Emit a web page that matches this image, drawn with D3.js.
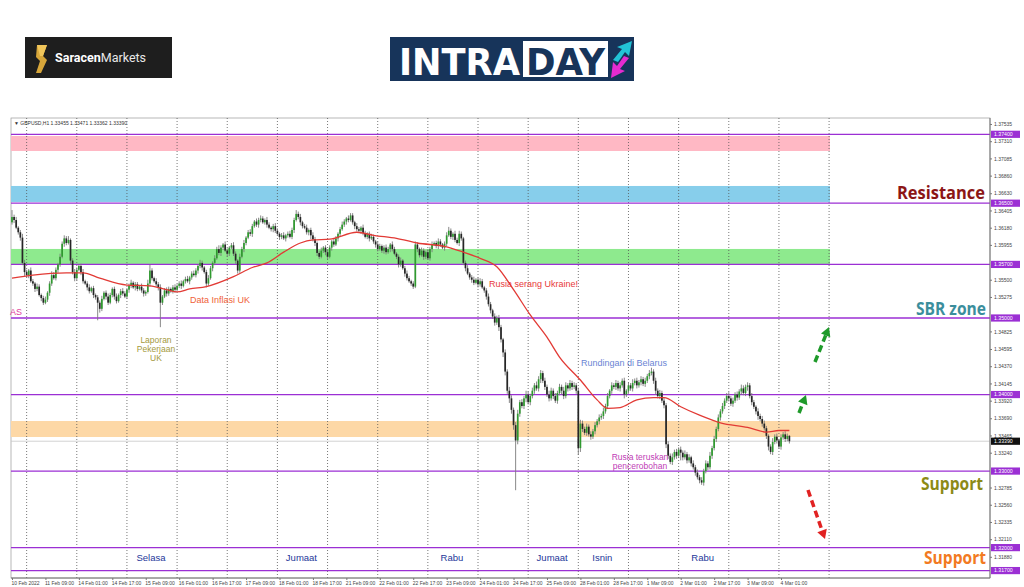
<!DOCTYPE html>
<html><head><meta charset="utf-8">
<script src="https://cdn.jsdelivr.net/npm/d3@7"></script>
<style>
body{margin:0;background:#fff;}
svg{display:block;font-family:"Liberation Sans",Arial,sans-serif;}
</style>
</head><body>
<svg id="c" width="1024" height="587"></svg>
<script>
// ---- DATA (prices in pips above 1.3000) ----
const firstOpen = 625;
const closes = [
632,628,618,612,605,572,560,556,562,548,
545,538,541,530,526,520,524,533,545,556,
552,563,570,580,597,604,598,602,575,560,
552,563,568,560,548,545,540,535,539,530,
527,520,512,525,533,528,520,530,538,528,
522,530,535,532,528,537,542,546,540,544,
538,541,536,532,534,545,562,552,548,544,
540,520,528,536,532,538,535,540,537,542,
545,542,548,551,548,553,558,556,562,568,
572,566,560,545,552,565,572,578,590,585,
592,596,588,584,592,595,584,575,562,580,
590,598,605,612,610,620,626,622,628,630,
625,628,622,618,616,620,614,610,606,608,
604,608,610,606,615,628,636,632,625,620,
618,612,615,608,603,598,585,580,588,592,
586,580,592,600,596,604,610,616,622,626,
630,628,634,625,620,616,614,618,611,606,
610,604,606,600,596,590,594,588,592,586,
590,596,590,584,580,570,575,565,558,552,
548,545,541,596,590,582,588,580,586,578,
590,596,598,594,600,596,592,597,608,614,
606,610,602,598,610,604,572,565,558,553,
550,546,550,544,548,540,536,528,518,510,
502,494,500,488,472,455,430,405,395,380,
360,340,375,390,385,395,400,390,398,405,
412,408,420,428,418,410,400,395,405,398,
392,402,410,405,398,412,408,415,410,412,
405,330,362,355,350,358,348,345,352,360,
365,370,372,378,385,398,405,412,410,415,
408,412,418,400,405,412,408,415,418,412,
416,420,414,418,424,428,430,418,405,398,
402,392,386,335,320,312,318,325,320,328,
324,318,322,314,318,310,305,298,292,288,
285,300,310,305,320,330,342,355,370,378,
385,392,398,395,388,392,400,396,404,408,
402,410,412,398,390,384,378,372,368,362,
356,346,332,325,338,345,340,332,344,348,
342,346,339
];
const wickUp = [
9,3,4,2,3,5,4,3,2,4, 3,2,4,3,2,3,4,2,3,5, 4,3,2,4,3,4,3,5,2,3, 4,3,2,3,4,2,3,4,2,3,
2,3,3,4,2,3,4,3,2,3, 4,2,3,4,3,2,3,4,2,3, 3,2,4,3,2,5,8,3,2,4, 3,4,2,3,4,3,2,3,4,2,
3,4,2,3,4,2,3,4,3,2, 4,3,2,3,4,3,2,4,3,5, 3,2,4,3,2,3,4,3,2,4, 3,4,2,3,4,3,2,4,3,4,
3,2,4,3,2,3,4,3,2,3, 4,2,3,4,3,3,5,3,4,2, 3,4,2,3,4,3,2,3,4,2, 3,4,3,2,4,3,2,3,4,3,
2,4,3,3,2,4,3,2,4,3, 2,3,4,3,2,4,3,2,3,4, 3,2,4,3,2,3,4,2,3,4, 3,2,3,4,3,2,4,3,2,4,
3,4,2,3,4,3,2,3,4,5, 3,2,4,3,4,3,2,3,4,2, 3,4,2,3,4,3,2,3,4,3, 2,4,3,4,3,2,4,3,5,4,
3,4,5,3,4,3,5,4,3,4, 3,5,4,4,3,4,3,5,4,3, 4,3,4,3,5,4,3,4,3,4, 3,4,5,4,3,4,3,4,3,4,
3,4,3,5,3,4,2,4,3,4, 3,4,3,4,2,4,3,5,3,4, 3,4,3,4,3,4,5,3,4,3, 4,3,4,3,4,3,5,3,4,3,
4,3,5,3,4,2,4,3,4,3, 4,3,4,3,5,3,4,3,4,3, 4,3,4,5,3,4,3,4,3,5, 4,3,4,3,4,3,2,4,3,4,
4,3,2,3,5,3,4,2,4,3, 4,3,1
];
const wickDn = [
3,4,2,3,4,3,5,3,4,2, 3,4,3,2,4,3,2,3,4,3, 2,3,4,3,2,4,3,2,5,3, 4,3,2,4,3,2,4,3,2,4,
3,23,5,3,2,4,3,2,3,4, 3,2,4,3,2,3,4,3,2,4, 3,2,3,4,3,2,4,3,2,3, 4,32,3,2,4,3,2,3,4,2,
3,4,2,3,2,4,3,2,3,4, 3,4,2,5,3,2,4,3,2,3, 4,3,2,4,3,2,3,4,4,3, 2,4,3,2,3,4,2,3,4,3,
2,3,4,2,3,4,3,2,4,3, 2,4,3,2,3,4,2,3,4,3, 2,3,4,5,3,4,4,3,2,3, 4,3,2,4,3,2,4,3,2,3,
4,3,2,3,4,3,2,4,3,2, 3,4,2,3,4,3,2,3,4,3, 2,4,3,2,3,4,3,2,4,3, 2,3,3,2,4,3,2,4,3,2,
3,4,2,3,4,3,2,4,3,2, 3,4,3,2,4,3,3,4,2,3, 4,3,2,4,3,2,3,4,3,4, 3,4,3,5,4,6,5,4,6,5,
6,65,5,4,3,4,5,3,4,3, 4,3,4,5,3,4,3,4,3,4, 3,4,3,5,4,3,4,3,4,3, 4,9,5,4,3,4,3,4,3,4,
3,4,3,4,3,4,3,4,3,4, 3,4,3,5,3,4,3,4,3,4, 3,4,3,4,3,4,3,4,5,3, 4,3,4,5,4,3,4,3,4,3,
10,4,3,4,3,4,3,4,3,4, 3,4,3,4,3,4,3,4,3,4, 3,4,3,4,3,4,3,4,3,4, 3,4,5,3,4,3,4,5,3,4,
3,4,5,3,4,3,4,3,4,3, 4,3,3
];
// moving average: [bar index, pips]
const maPts = [
[0,552],[10,556],[26,559],[34,559],[42,552],[55,543],[66,542],[74,537],[79,534],[85,538],
[93,541],[106,554],[115,566],[122,572],[130,586],[138,598],[144,602],[152,603],[165,612],
[173,608],[184,604],[194,598],[208,593],[216,586],[224,578],[232,567],[240,537],[248,504],
[256,475],[262,449],[272,419],[280,393],[285,382],[291,383],[299,393],[307,396],[312,396],
[320,384],[329,373],[339,363],[352,357],[361,351],[367,353],[372,353]
];
const xTickIdx = d3.range(0, 369, 16);
const xTickLabels = ["10 Feb 2022","11 Feb 09:00","14 Feb 01:00","14 Feb 17:00","15 Feb 09:00","16 Feb 01:00","16 Feb 17:00","17 Feb 09:00","18 Feb 01:00","18 Feb 17:00","21 Feb 09:00","22 Feb 01:00","22 Feb 17:00","23 Feb 09:00","24 Feb 01:00","24 Feb 17:00","25 Feb 09:00","28 Feb 01:00","28 Feb 17:00","1 Mar 09:00","2 Mar 01:00","2 Mar 17:00","3 Mar 09:00","4 Mar 01:00"];
const dayStarts = [7,31,55,79,103,127,151,175,199,223,247,271,295,319,343,367,391];
const yTicks = [1.37535,1.37310,1.37085,1.36860,1.36630,1.36405,1.36180,1.35955,1.35500,1.35275,1.34825,1.34595,1.34370,1.34145,1.33920,1.33690,1.33465,1.33240,1.32785,1.32560,1.32335,1.32110,1.31880];
const levels = [1.37400,1.36500,1.35700,1.35000,1.34000,1.33000,1.32000,1.31700];
const lastPrice = 1.33390;
const bands = [
  {lo:1.37182, hi:1.37378, color:"#ffb8c4"},
  {lo:1.36516, hi:1.36725, color:"#87ceeb"},
  {lo:1.35706, hi:1.35902, color:"#8eea8e"},
  {lo:1.33445, hi:1.33654, color:"#fdd8a6"}
];
const dayNames = ["Selasa","Jumaat","Rabu","Jumaat","Isnin","Rabu"];
const dayNameBars = [55,127,199,247,271,319];

// ---- SCALES ----
const svg = d3.select("#c");
const P = p => 1.3 + p/10000;
const x = d3.scaleLinear().domain([0,468]).range([12,990]);
const y = d3.scaleLinear().domain([1.31603,1.37613]).range([578,118]);
const L = 11, R = 990, T = 118, B = 578;

// ---- LOGOS ----
const lg = svg.append("g");
lg.append("rect").attr("x",25).attr("y",37).attr("width",147).attr("height",41).attr("fill","#1e1e1e");
lg.append("polygon").attr("points","37,45 47,45 43,56 47,60 41,73 36,73 40,61 36,57").attr("fill","#d7a63a");
lg.append("polygon").attr("points","37,45 47,45 43,56 40,56").attr("fill","#f0c55a");
const st = lg.append("text").attr("x",55).attr("y",62).attr("font-size",12.5).attr("fill","#fff")
  .attr("font-family","Roboto, 'Liberation Sans', sans-serif");
st.append("tspan").attr("font-weight",700).text("Saracen");
st.append("tspan").attr("font-weight",400).attr("fill","#e8e8e8").text("Markets");

lg.append("rect").attr("x",390).attr("y",37).attr("width",244).attr("height",44).attr("fill","#17345a");
lg.append("text").attr("x",399).attr("y",75).attr("font-size",37).attr("font-weight",700).attr("fill","#fff")
  .attr("font-family","'DejaVu Sans Condensed','Roboto',sans-serif").attr("textLength",121).attr("lengthAdjust","spacingAndGlyphs").text("INTRA");
lg.append("rect").attr("x",523).attr("y",41).attr("width",85).attr("height",36).attr("fill","#fff");
lg.append("text").attr("x",526).attr("y",75).attr("font-size",37).attr("font-weight",700).attr("fill","#17345a")
  .attr("font-family","'DejaVu Sans Condensed','Roboto',sans-serif").attr("textLength",79).attr("lengthAdjust","spacingAndGlyphs").text("DAY");
lg.append("polygon").attr("points","613,60 622,49 617,47 632,41 629,56 625,52 618,62").attr("fill","#22c3d6");
lg.append("polygon").attr("points","629,58 620,69 625,71 611,78 613,62 617,66 624,56").attr("fill","#e52bd0");

// ---- PLOT FRAME ----
const g = svg.append("g");
g.append("rect").attr("x",L).attr("y",T).attr("width",R-L).attr("height",B-T).attr("fill","#fff").attr("stroke","#999").attr("stroke-width",0.7);

// bands
g.selectAll(".band").data(bands).join("rect")
  .attr("x",L).attr("width",830-L)
  .attr("y",d=>y(d.hi)).attr("height",d=>y(d.lo)-y(d.hi)).attr("fill",d=>d.color);

// vertical grid
g.selectAll(".vg").data(dayStarts).join("line")
  .attr("x1",d=>x(d)).attr("x2",d=>x(d)).attr("y1",T).attr("y2",B)
  .attr("stroke","#555").attr("stroke-width",0.8).attr("stroke-dasharray","1,2");

// last price line
g.append("line").attr("x1",L).attr("x2",R).attr("y1",y(lastPrice)).attr("y2",y(lastPrice)).attr("stroke","#c8c8c8").attr("stroke-width",0.8);

// levels
g.selectAll(".lvl").data(levels).join("line")
  .attr("x1",L).attr("x2",R).attr("y1",d=>y(d)).attr("y2",d=>y(d))
  .attr("stroke","#9b2fd4").attr("stroke-width",1.3);

// candles
const bars = closes.map((c,i)=>{
  const o = i===0 ? firstOpen : closes[i-1];
  return {i, o:P(o), c:P(c), h:P(Math.max(o,c)+wickUp[i]), l:P(Math.min(o,c)-wickDn[i])};
});
const cg = g.append("g");
cg.selectAll("line").data(bars).join("line")
  .attr("x1",d=>x(d.i)).attr("x2",d=>x(d.i)).attr("y1",d=>y(d.h)).attr("y2",d=>y(d.l))
  .attr("stroke","#7a7a7a").attr("stroke-width",0.9);
cg.selectAll("rect").data(bars).join("rect")
  .attr("x",d=>x(d.i)-0.85).attr("width",1.7)
  .attr("y",d=>y(Math.max(d.o,d.c))).attr("height",d=>Math.max(0.8,Math.abs(y(d.o)-y(d.c))))
  .attr("fill",d=>d.c>=d.o?"#2f9a2f":"#262626");

// MA
g.append("path").datum(maPts)
  .attr("d",d3.line().x(d=>x(d[0])).y(d=>y(P(d[1]))).curve(d3.curveMonotoneX))
  .attr("fill","none").attr("stroke","#e23a35").attr("stroke-width",1.3);

// header
g.append("text").attr("x",14).attr("y",125).attr("font-size",5).attr("fill","#333")
  .text("\u25BC GBPUSD,H1  1.33455 1.33471 1.33362 1.33390");

// ---- AXES ----
const ya = d3.axisRight(y).tickValues(yTicks).tickFormat(d3.format(".5f")).tickSize(2).tickSizeOuter(0);
const yg = svg.append("g").attr("transform",`translate(${R},0)`).call(ya);
yg.select(".domain").attr("stroke","#777").attr("d",`M0,${T}V${B}`);
yg.selectAll(".tick line").attr("stroke","#777");
yg.selectAll(".tick text").attr("font-size",5).attr("fill","#444").attr("x",4).attr("font-family","'Liberation Sans',Arial,sans-serif");

const xa = d3.axisBottom(x).tickValues(xTickIdx).tickFormat((d,k)=>xTickLabels[k]).tickSize(2).tickSizeOuter(0);
const xg = svg.append("g").attr("transform",`translate(0,${B})`).call(xa);
xg.select(".domain").attr("stroke","#777").attr("d",`M${L},0H${R}`);
xg.selectAll(".tick line").attr("stroke","#777");
xg.selectAll(".tick text").attr("font-size",5).attr("fill","#444").attr("text-anchor","start").attr("x",-1).attr("y",3.5).attr("font-family","'Liberation Sans',Arial,sans-serif");

// level label boxes
const lb = svg.append("g");
const boxes = levels.map(v=>({v, fill:"#9b2fd4"})).concat([{v:lastPrice, fill:"#111"}]);
lb.selectAll("rect").data(boxes).join("rect")
  .attr("x",R+1).attr("width",29).attr("y",d=>y(d.v)-3.6).attr("height",7.2).attr("fill",d=>d.fill);
lb.selectAll("text").data(boxes).join("text")
  .attr("x",R+4).attr("y",d=>y(d.v)+1.9).attr("font-size",5.2).attr("fill","#fff")
  .text(d=>d3.format(".5f")(d.v));

// ---- ANNOTATIONS ----
const an = svg.append("g").attr("font-family","'Liberation Sans',Arial,sans-serif");
an.append("text").attr("x",10).attr("y",315).attr("font-size",9).attr("fill","#e0409a").text("AS");
an.append("text").attr("x",190).attr("y",303).attr("font-size",9).attr("fill","#ef6238").text("Data Inflasi UK");
["Laporan","Pekerjaan","UK"].forEach((t,k)=>an.append("text").attr("x",156).attr("y",343+k*9).attr("text-anchor","middle").attr("font-size",8.5).attr("fill","#a49a3c").text(t));
an.append("text").attr("x",489).attr("y",287).attr("font-size",9).attr("fill","#e8383a").text("Rusia serang Ukraine!");
an.append("text").attr("x",581).attr("y",366).attr("font-size",9).attr("fill","#6a85d4").text("Rundingan di Belarus");
["Rusia teruskan","pencerobohan"].forEach((t,k)=>an.append("text").attr("x",640).attr("y",460+k*8.5).attr("text-anchor","middle").attr("font-size",8.5).attr("fill","#c03db6").text(t));

const big = [
  {t:"Resistance", x1:897, x2:985, yb:199, c:"#8c1616"},
  {t:"SBR zone", x1:916, x2:986, yb:315, c:"#3b8e9c"},
  {t:"Support", x1:921, x2:983, yb:490, c:"#8c8a16"},
  {t:"Support", x1:924, x2:986, yb:564, c:"#f27a22"}
];
an.selectAll(".big").data(big).join("text")
  .attr("x",d=>d.x1).attr("y",d=>d.yb).attr("font-size",17).attr("font-weight",700)
  .attr("font-family","'Open Sans','Liberation Sans',sans-serif")
  .attr("textLength",d=>d.x2-d.x1).attr("lengthAdjust","spacingAndGlyphs")
  .attr("fill",d=>d.c).text(d=>d.t);

an.selectAll(".day").data(dayNames).join("text")
  .attr("x",(d,k)=>x(dayNameBars[k]+11.5)).attr("y",561).attr("text-anchor","middle")
  .attr("font-size",9.5).attr("fill","#25379a").text(d=>d);

// ---- ARROWS ----
function arrow(x1,y1,x2,y2,color){
  const a = svg.append("g");
  const ang = Math.atan2(y2-y1,x2-x1), hl = 9, hw = 5;
  const bx = x2 - hl*Math.cos(ang), by = y2 - hl*Math.sin(ang);
  a.append("line").attr("x1",x1).attr("y1",y1).attr("x2",bx).attr("y2",by)
    .attr("stroke",color).attr("stroke-width",3.5).attr("stroke-dasharray","7,4");
  const px = -Math.sin(ang)*hw, py = Math.cos(ang)*hw;
  a.append("polygon").attr("points",`${x2},${y2} ${bx+px},${by+py} ${bx-px},${by-py}`).attr("fill",color);
}
arrow(815,362,829,327,"#1f9a2a");
arrow(799,413,806,395,"#1f9a2a");
arrow(808,490,825,539,"#e12222");
</script>
</body></html>
